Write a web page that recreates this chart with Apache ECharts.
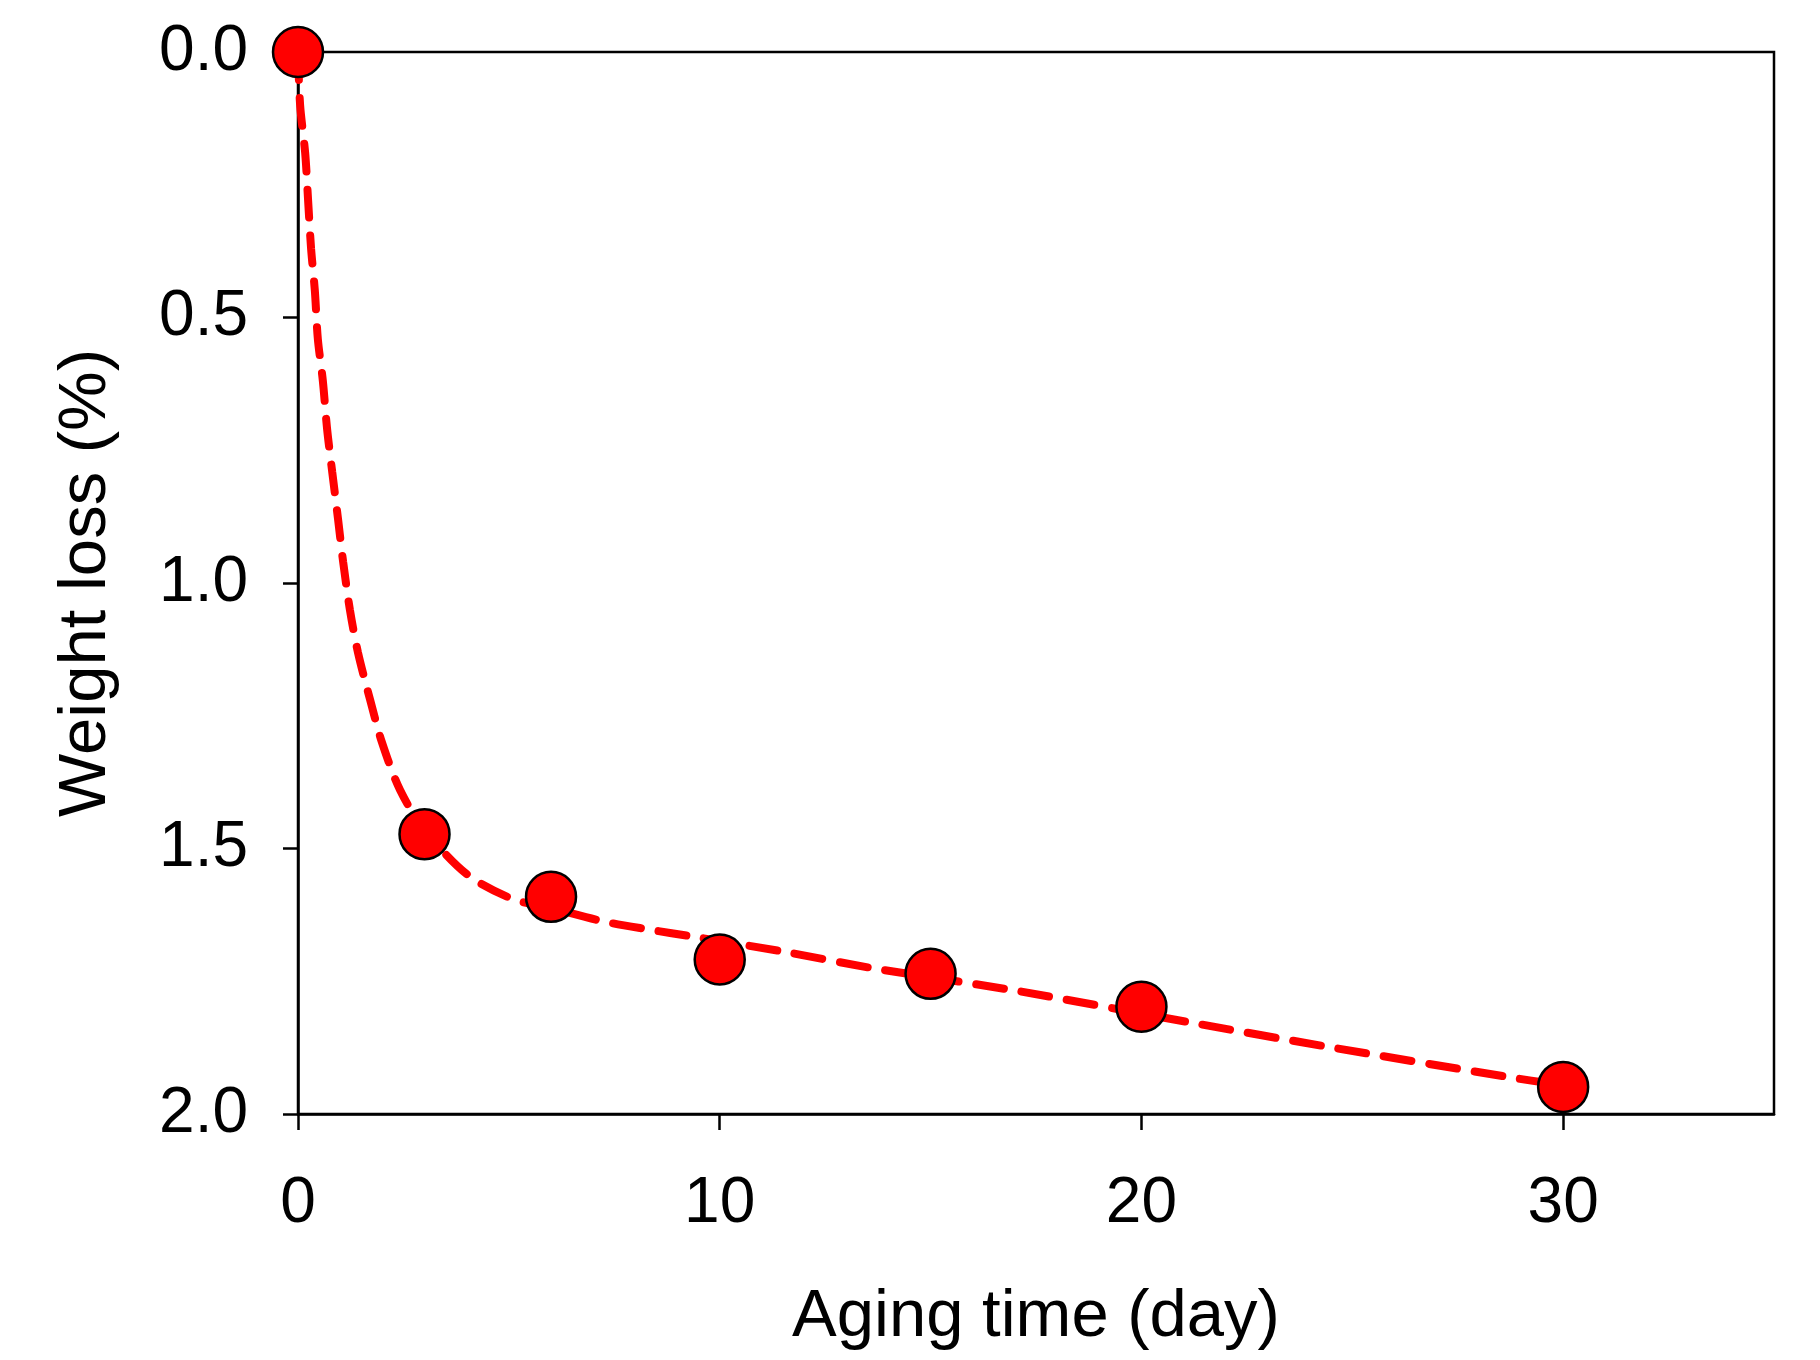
<!DOCTYPE html>
<html>
<head>
<meta charset="utf-8">
<script src="https://cdn.jsdelivr.net/npm/echarts@6/dist/echarts.min.js"></script>
<style>
html,body{margin:0;padding:0;background:#fff;}
#chart{width:1820px;height:1360px;}
</style>
</head>
<body>
<div id="chart"></div>
<script>
// Measured data points: aging time (day) and weight loss (%)
const agingDays = [0, 3, 6, 10, 15, 20, 30];
const weightLoss = [0.0, 1.473, 1.591, 1.709, 1.736, 1.798, 1.949];

// Dashed fitted curve
const fitDays = [0, 0.05, 0.17, 0.24, 0.31, 0.40, 0.47, 0.59, 0.69, 0.81, 0.95, 1.07, 1.23, 1.42, 1.71, 1.99, 2.42, 3.0, 4.03, 5.09, 6.0, 7.28, 8.35, 9.37, 11.5, 13.6, 17.04, 21.25, 24.39, 28.67, 30];
const fitLoss = [0, 0.10, 0.19, 0.28, 0.37, 0.45, 0.54, 0.62, 0.71, 0.79, 0.88, 0.96, 1.05, 1.13, 1.22, 1.30, 1.39, 1.465, 1.55, 1.595, 1.612, 1.638, 1.653, 1.666, 1.694, 1.725, 1.768, 1.829, 1.873, 1.930, 1.946];

// Axis ticks
const xTicks = [0, 10, 20, 30];
const yTicks = [0, 0.5, 1.0, 1.5, 2.0];

const FONT = '"Liberation Sans", Arial, sans-serif';

const chart = echarts.init(document.getElementById('chart'), null, {renderer: 'canvas'});
chart.setOption({
  animation: false,
  backgroundColor: '#ffffff',
  grid: {
    left: 298, right: 46, top: 52, bottom: 246,
    show: true, borderColor: '#000', borderWidth: 2.5, backgroundColor: 'transparent'
  },
  xAxis: {
    type: 'value', min: 0, max: 35, position: 'bottom',
    name: 'Aging time (day)', nameLocation: 'middle', nameGap: 170,
    nameTextStyle: {fontFamily: FONT, fontSize: 67, color: '#000'},
    axisLine: {show: true, onZero: false, lineStyle: {color: '#000', width: 2.5}},
    axisTick: {show: true, inside: false, length: 16, lineStyle: {color: '#000', width: 2.5}, customValues: xTicks},
    axisLabel: {fontFamily: FONT, fontSize: 64, color: '#000', margin: 58, customValues: xTicks},
    splitLine: {show: false}
  },
  yAxis: {
    type: 'value', min: 0, max: 2, interval: 0.5, inverse: true, position: 'left',
    name: 'Weight loss (%)', nameLocation: 'middle', nameGap: 178, nameRotate: 90,
    nameTextStyle: {fontFamily: FONT, fontSize: 67, color: '#000'},
    axisLine: {show: true, onZero: false, lineStyle: {color: '#000', width: 2.5}},
    axisTick: {show: true, inside: false, length: 15, lineStyle: {color: '#000', width: 2.5}, customValues: yTicks},
    axisLabel: {fontFamily: FONT, fontSize: 64, color: '#000', margin: 50, customValues: yTicks,
      formatter: v => Number(v).toFixed(1)},
    splitLine: {show: false}
  },
  series: [
    {
      type: 'line',
      data: fitDays.map((d, i) => [d, fitLoss[i]]),
      showSymbol: false,
      smooth: 0.3,
      clip: false,
      lineStyle: {color: '#ff0000', width: 8, type: [28, 18], cap: 'round'},
      z: 2
    },
    {
      type: 'scatter',
      data: agingDays.map((d, i) => [d, weightLoss[i]]),
      symbol: 'circle',
      symbolSize: 50,
      clip: false,
      itemStyle: {color: '#ff0000', borderColor: '#000', borderWidth: 2.5, opacity: 1},
      z: 3
    }
  ]
});
</script>
</body>
</html>
